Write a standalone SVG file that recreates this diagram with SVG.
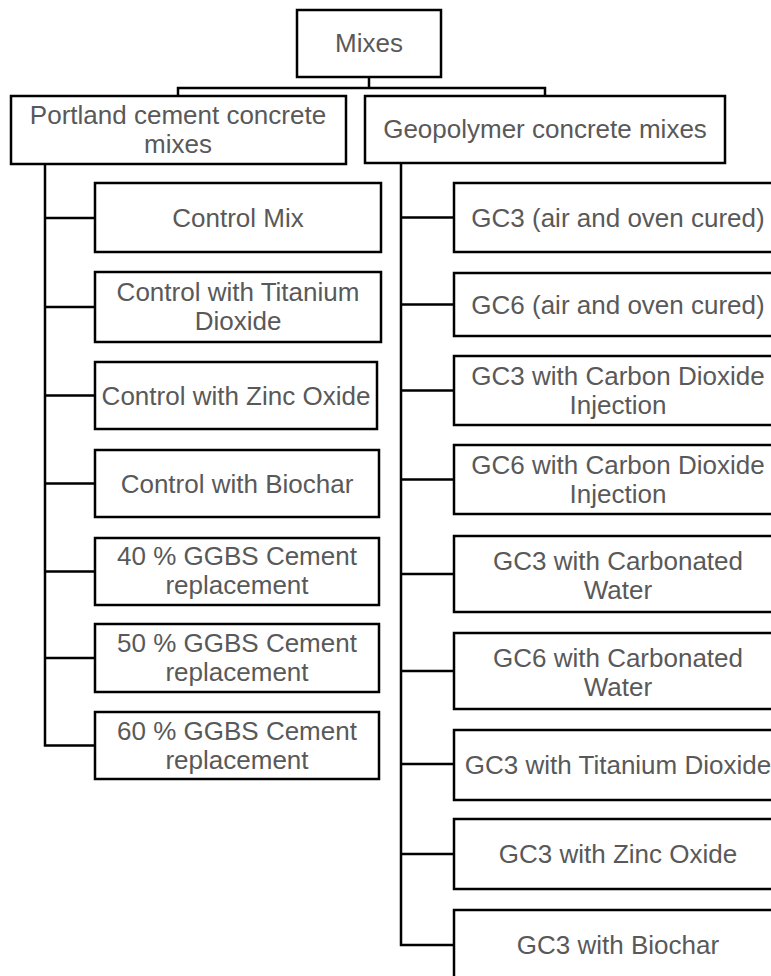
<svg xmlns="http://www.w3.org/2000/svg" width="771" height="976" viewBox="0 0 771 976">
<style>
.box{fill:#ffffff;stroke:#000000;stroke-width:2.5}
.lbl{font-family:"Liberation Sans",Arial,sans-serif;font-size:26px;fill:#595959;text-anchor:middle}
.con{fill:none;stroke:#000000;stroke-width:2.5}
</style>
<rect width="771" height="976" fill="#ffffff"/>
<g id="connectors">
<path class="con" d="M369,77 V88 M178,96 V88 H545 V96"/>
<path class="con" d="M45,164 V745.5 H95 M45,218 H95 M45,307 H95 M45,395.5 H95 M45,483.5 H95 M45,571.5 H95 M45,658 H95"/>
<path class="con" d="M401,163 V945 H454 M401,217.5 H454 M401,304.5 H454 M401,390.5 H454 M401,479.5 H454 M401,574 H454 M401,671 H454 M401,764 H454 M401,854 H454"/>
</g>
<g id="mixes"><rect class="box" x="297" y="10" width="144" height="67"/><text class="lbl" x="369" y="52">Mixes</text></g>
<g id="portland"><rect class="box" x="11" y="96" width="335" height="68"/><text class="lbl" x="178" y="124">Portland cement concrete<tspan x="178" dy="29">mixes</tspan></text></g>
<g id="geopolymer"><rect class="box" x="365" y="96" width="360" height="67"/><text class="lbl" x="545" y="138">Geopolymer concrete mixes</text></g>
<g id="control-mix"><rect class="box" x="95" y="183" width="286" height="69"/><text class="lbl" x="238" y="227">Control Mix</text></g>
<g id="control-tio2"><rect class="box" x="95" y="272" width="286" height="70"/><text class="lbl" x="238" y="301">Control with Titanium<tspan x="238" dy="29">Dioxide</tspan></text></g>
<g id="control-zno"><rect class="box" x="95" y="362" width="282" height="67"/><text class="lbl" x="236" y="404.5">Control with Zinc Oxide</text></g>
<g id="control-biochar"><rect class="box" x="95" y="450" width="284" height="67"/><text class="lbl" x="237" y="492.5">Control with Biochar</text></g>
<g id="ggbs40"><rect class="box" x="95" y="538" width="284" height="67"/><text class="lbl" x="237" y="565">40 % GGBS Cement<tspan x="237" dy="29">replacement</tspan></text></g>
<g id="ggbs50"><rect class="box" x="95" y="624" width="284" height="68"/><text class="lbl" x="237" y="652">50 % GGBS Cement<tspan x="237" dy="29">replacement</tspan></text></g>
<g id="ggbs60"><rect class="box" x="95" y="712" width="284" height="67"/><text class="lbl" x="237" y="739.5">60 % GGBS Cement<tspan x="237" dy="29">replacement</tspan></text></g>
<g id="gc3-air"><rect class="box" x="454" y="183" width="328" height="69"/><text class="lbl" x="618" y="226.5">GC3 (air and oven cured)</text></g>
<g id="gc6-air"><rect class="box" x="454" y="273" width="328" height="63"/><text class="lbl" x="618" y="313.5">GC6 (air and oven cured)</text></g>
<g id="gc3-co2"><rect class="box" x="454" y="356" width="328" height="69"/><text class="lbl" x="618" y="385">GC3 with Carbon Dioxide<tspan x="618" dy="29">Injection</tspan></text></g>
<g id="gc6-co2"><rect class="box" x="454" y="445" width="328" height="69"/><text class="lbl" x="618" y="474">GC6 with Carbon Dioxide<tspan x="618" dy="29">Injection</tspan></text></g>
<g id="gc3-cw"><rect class="box" x="454" y="536" width="328" height="76"/><text class="lbl" x="618" y="569.5">GC3 with Carbonated<tspan x="618" dy="29">Water</tspan></text></g>
<g id="gc6-cw"><rect class="box" x="454" y="633" width="328" height="76"/><text class="lbl" x="618" y="666.5">GC6 with Carbonated<tspan x="618" dy="29">Water</tspan></text></g>
<g id="gc3-tio2"><rect class="box" x="454" y="730" width="328" height="70"/><text class="lbl" x="618" y="774">GC3 with Titanium Dioxide</text></g>
<g id="gc3-zno"><rect class="box" x="454" y="819" width="328" height="70"/><text class="lbl" x="618" y="863">GC3 with Zinc Oxide</text></g>
<g id="gc3-biochar"><rect class="box" x="454" y="910" width="328" height="70"/><text class="lbl" x="618" y="954">GC3 with Biochar</text></g>
</svg>
